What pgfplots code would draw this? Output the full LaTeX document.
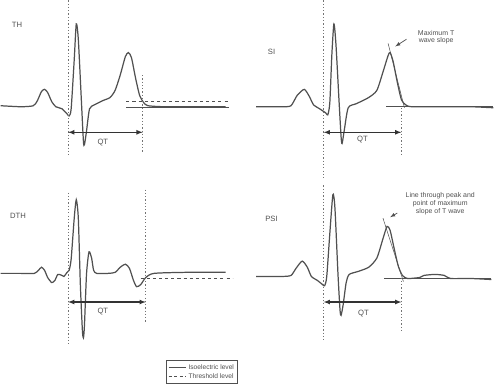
\documentclass[border=0pt]{standalone}
\usepackage{pgfplots}
\pgfplotsset{compat=1.18}
\usepackage{fontspec}
\setmainfont{Liberation Sans}
\definecolor{sig}{HTML}{505050}
\begin{document}
\begin{tikzpicture}
\begin{axis}[
  scale only axis, width=494pt, height=398pt,
  xmin=0, xmax=494, ymin=0, ymax=398, y dir=reverse,
  hide axis, clip=false,
  legend style={at={(axis cs:172,364)}, anchor=north west, draw=sig, line width=0.7pt,
    font=\fontsize{6.5}{7}\selectfont, row sep=-1pt, inner sep=1.5pt, text=sig},
  legend cell align=left,
  every axis plot/.append style={line width=1.2pt, color=sig},
  vdot/.style={dotted, line width=0.8pt, color=sig!80},
]
\addlegendimage{sig, line width=0.9pt}
\addlegendentry{Isoelectric level}
\addlegendimage{sig, line width=0.9pt, dash pattern=on 3pt off 2.5pt}
\addlegendentry{Threshold level}
% ---------- TH ----------
\addplot[smooth, tension=0.4] coordinates {(10,115) (30,116) (42,115) (46,110) (50,101) (53,99) (56,102) (60,111) (64,116) (70,118) (75,123) (77,125) (79,118) (82,70) (84,35) (86,50) (89,110) (91,150) (92,153) (94,140) (97,118) (102,114) (110,110) (117,107) (122,100) (127,85) (132,67) (135,63) (138,68) (142,88) (146,105) (150,112) (154,115) (170,116) (200,116) (230,116)};
\addplot[line width=0.9pt] coordinates {(133,117) (233,117)};
\addplot[line width=1pt, dash pattern=on 3pt off 3pt] coordinates {(133,111) (233,111)};
\addplot[vdot] coordinates {(76,12) (76,165)};
\addplot[vdot] coordinates {(149,85) (149,160)};
\addplot[<->, >=latex, line width=1.1pt, color=black!80] coordinates {(76,141) (149,141)};
\node[font=\fontsize{7.5}{8}\selectfont, text=sig] at (axis cs:110,151) {QT};
\node[font=\fontsize{7.5}{8}\selectfont, text=sig] at (axis cs:26,36) {TH};
% ---------- SI ----------
\addplot[smooth, tension=0.4] coordinates {(260,116) (285,116) (294,115) (300,105) (307,99) (312,106) (316,114) (322,118) (328,122) (330,124) (332,112) (334,65) (336,35) (338,55) (341,110) (343,145) (344,152) (346,140) (350,117) (358,113) (370,107) (378,100) (384,82) (389,66) (391,63) (394,72) (398,92) (402,109) (406,114) (412,116) (440,116) (470,116) (492,117)};
\addplot[line width=0.9pt] coordinates {(387,116) (492,116)};
\addplot[line width=0.5pt] coordinates {(389,54) (405,117)};
\addplot[vdot] coordinates {(326,12) (326,187)};
\addplot[vdot] coordinates {(402,117) (402,163)};
\addplot[<->, >=latex, line width=1.1pt, color=black!80] coordinates {(326,141) (402,141)};
\addplot[->, >=latex, line width=0.7pt] coordinates {(407,50) (396,57)};
\node[font=\fontsize{7.5}{8}\selectfont, text=sig] at (axis cs:364,148) {QT};
\node[font=\fontsize{7.5}{8}\selectfont, text=sig] at (axis cs:275,62) {SI};
\node[font=\fontsize{6.8}{7.5}\selectfont, text=sig, align=center] at (axis cs:436,48) {Maximum T\\wave slope};
% ---------- DTH ----------
\addplot[smooth, tension=0.4] coordinates {(10,279) (30,279) (43,279) (47,276) (50,273) (53,276) (56,283) (60,288) (63,286) (66,280) (70,281) (72,282) (75,278) (77,276) (79,265) (82,225) (84,207) (86,225) (88,290) (90,335) (91,342) (92,330) (94,280) (96,260) (97,258) (99,264) (101,276) (104,279) (115,279) (122,278) (127,273) (132,270) (136,274) (140,286) (143,292) (147,290) (152,283) (160,279) (190,278) (230,278)};
\addplot[line width=1pt, dash pattern=on 3pt off 3pt] coordinates {(147,284) (237,284)};
\addplot[vdot] coordinates {(76,200) (76,348)};
\addplot[vdot] coordinates {(152,197) (152,327)};
\addplot[<->, >=latex, line width=1.1pt, color=black!80] coordinates {(76,307) (152,307)};
\node[font=\fontsize{7.5}{8}\selectfont, text=sig] at (axis cs:110,316) {QT};
\node[font=\fontsize{7.5}{8}\selectfont, text=sig] at (axis cs:27,223) {DTH};
% ---------- PSI ----------
\addplot[smooth, tension=0.4] coordinates {(260,282) (285,282) (294,281) (299,274) (305,267) (310,273) (314,282) (320,286) (325,290) (327,291) (329,282) (332,240) (335,202) (337,215) (340,280) (342,315) (343,320) (345,310) (348,288) (351,280) (360,277) (370,273) (378,264) (384,245) (388,233) (391,237) (395,255) (399,272) (403,281) (408,284) (420,283) (424,281) (435,280) (444,281) (450,284) (470,284) (490,285)};
\addplot[line width=0.9pt] coordinates {(385,284) (490,284)};
\addplot[line width=0.5pt] coordinates {(384,225) (404,287)};
\addplot[vdot] coordinates {(326,193) (326,345)};
\addplot[vdot] coordinates {(402,280) (402,337)};
\addplot[<->, >=latex, line width=1.1pt, color=black!80] coordinates {(326,307) (402,307)};
\addplot[->, >=latex, line width=0.7pt] coordinates {(398,220) (391,224)};
\node[font=\fontsize{7.5}{8}\selectfont, text=sig] at (axis cs:365,318) {QT};
\node[font=\fontsize{7.5}{8}\selectfont, text=sig] at (axis cs:275,226) {PSI};
\node[font=\fontsize{6.8}{7.5}\selectfont, text=sig, align=center] at (axis cs:440,211) {Line through peak and\\point of maximum\\slope of T wave};
\end{axis}
\end{tikzpicture}
\end{document}
